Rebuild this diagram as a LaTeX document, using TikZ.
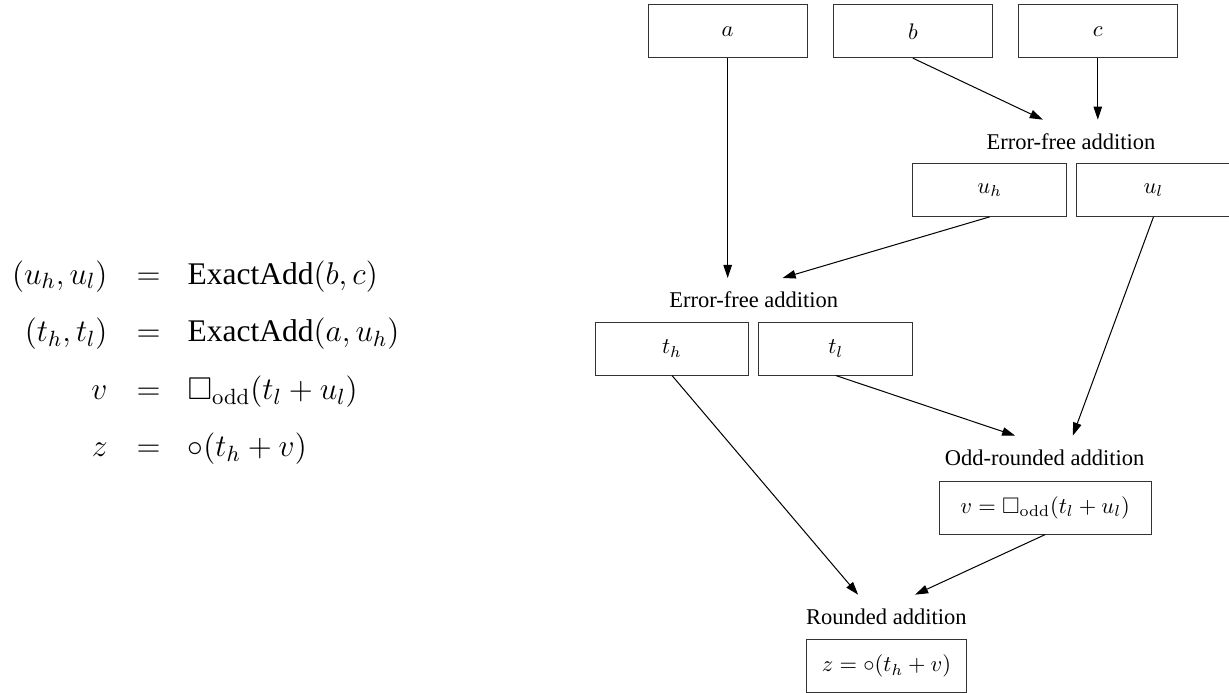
\RequirePackage{fix-cm}
\documentclass[tikz,border=0pt]{standalone}
\usepackage{amsmath,amssymb}
\usepackage[no-math]{fontspec}
\setmainfont{Liberation Serif}
\usetikzlibrary{arrows.meta}

\begin{document}
\begin{tikzpicture}[
        box/.style={rectangle, draw=black!80, line width=0.45pt, minimum width=2.4cm, minimum height=0.823cm, inner sep=0pt, font=\fontsize{10}{12}\selectfont},
        op/.style={inner sep=0pt, minimum height=0.675cm, font=\fontsize{10}{12}\selectfont},
        arrow/.style={->, >={Triangle[length=5.8pt, width=3.8pt]}, line width=0.45pt}
    ]
    \useasboundingbox (0,0) rectangle (19.203,-10.8125);
    \node[anchor=west, inner sep=0pt, font=\fontsize{14}{25.6}\selectfont] (eqs) at (0.183,-5.61) {$\begin{array}{@{}r@{\hspace{13pt}}c@{\hspace{12pt}}l@{}}
        (u_h,u_l) & = & \text{ExactAdd}(b,c)\\
        (t_h,t_l) & = & \text{ExactAdd}(a,u_h)\\
        v & = & \square_{\mathrm{odd}}(t_l+u_l)\\
        z & = & \circ(t_h+v)
    \end{array}$};
    \node[box, minimum width=2.484cm] (a) at (11.370,-0.489) {$a$};
    \node[box, minimum width=2.484cm] (b) at (14.263,-0.489) {$b$};
    \node[box, minimum width=2.484cm] (c) at (17.153,-0.489) {$c$};
    \node[op] (lab1) at (16.734,-2.214) {Error-free addition};
    \node[box] (uh) at (15.463,-2.969) {$u_h$};
    \node[box] (ul) at (18.023,-2.969) {$u_l$};
    \node[op] (lab2) at (11.778,-4.688) {Error-free addition};
    \node[box] (th) at (10.500,-5.448) {$t_h$};
    \node[box] (tl) at (13.059,-5.448) {$t_l$};
    \node[op] (lab3) at (16.322,-7.152) {Odd-rounded addition};
    \node[box, minimum width=3.312cm] (v) at (16.331,-7.933) {$v=\square_{\mathrm{odd}}(t_l+u_l)$};
    \node[op] (lab4) at (13.848,-9.636) {Rounded addition};
    \node[box, minimum width=2.49cm] (z) at (13.852,-10.411) {$z=\circ(t_h+v)$};
    \draw[arrow] (a.south) -- (a.south |- lab2.north);
    \draw[arrow] (b.south) -- ([xshift=-0.44cm]lab1.north);
    \draw[arrow] (c.south) -- (c.south |- lab1.north);
    \draw[arrow] (uh.south) -- ([xshift=0.45cm]lab2.north);
    \draw[arrow] (ul.south) -- ([xshift=0.44cm]lab3.north);
    \draw[arrow] (tl.south) -- ([xshift=-0.46cm]lab3.north);
    \draw[arrow] (th.south) -- ([xshift=-0.44cm]lab4.north);
    \draw[arrow] (v.south) -- ([xshift=0.45cm]lab4.north);
\end{tikzpicture}
\end{document}
